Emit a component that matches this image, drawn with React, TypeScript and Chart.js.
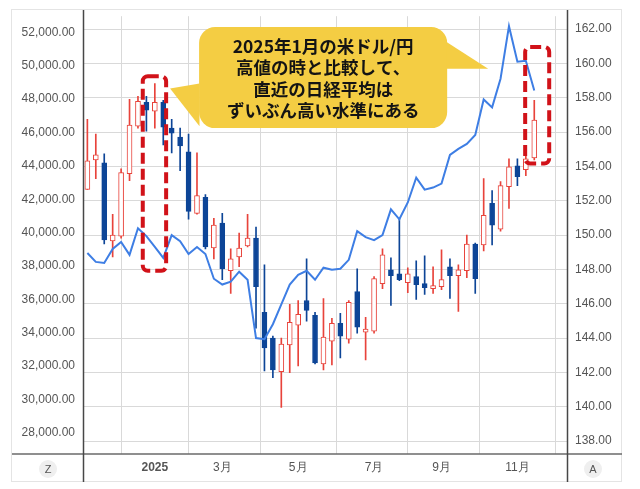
import React, { useEffect, useRef } from 'react';
import { Chart, registerables } from 'chart.js';

Chart.register(...registerables);

// Weekly Nikkei 225 candles (left axis)
const openP = [42583, 44363, 44185, 39496, 39793, 43532, 46381, 47805, 47271, 47805, 46262, 45728, 44838, 41158, 42108, 39081, 40565, 37716, 38547, 39200, 39674, 35223, 33680, 31662, 33265, 34452, 35935, 35045, 32137, 33502, 34570, 33621, 36469, 34036, 34095, 36944, 37775, 37538, 37004, 37360, 36944, 36648, 36766, 37953, 37419, 37716, 39318, 39259, 41752, 40209, 42761, 44007, 43770, 44482];
const closeP = [44304, 44660, 39556, 39852, 43591, 46440, 47865, 47331, 47805, 46322, 45965, 45194, 41277, 42226, 39140, 40446, 37835, 38428, 39081, 39674, 36766, 33087, 31781, 33324, 34630, 35104, 35342, 32196, 33739, 34570, 33799, 35817, 34333, 34214, 37241, 38665, 37419, 37182, 37538, 36885, 36707, 36826, 37182, 37419, 37775, 39318, 37241, 41039, 40446, 42820, 43948, 43354, 44422, 46737];
const highP = [46796, 45906, 44719, 41099, 43829, 47983, 48161, 48161, 48933, 47924, 46796, 46262, 45906, 44778, 42286, 40861, 41158, 39022, 39971, 41099, 40327, 38072, 33799, 33680, 35698, 35935, 38428, 35223, 36054, 34867, 35164, 35935, 37835, 34926, 37360, 39022, 38487, 40861, 37894, 38309, 38606, 37953, 38962, 38428, 38072, 39852, 39378, 43235, 42523, 43057, 44422, 44422, 44600, 47924];
const lowP = [42583, 43235, 39318, 38547, 39674, 43117, 46262, 46084, 46262, 45253, 44778, 43710, 40802, 41099, 39022, 38428, 37182, 36351, 37953, 39140, 34274, 31721, 31306, 29526, 31603, 32018, 34689, 32137, 31781, 32078, 32493, 33383, 33977, 32374, 33977, 36648, 35639, 37123, 36410, 35995, 36291, 36351, 36588, 36054, 35282, 37300, 36351, 38903, 39259, 40090, 41455, 42820, 43413, 44363];

// USD/JPY weekly (right axis)
const usdJpy = [148.96, 148.44, 148.38, 149.19, 149.6, 148.85, 150.4, 149.94, 149.31, 148.67, 150.0, 149.65, 148.9, 149.31, 148.9, 147.46, 147.12, 147.29, 147.87, 147.4, 144.0, 143.94, 144.81, 145.96, 147.12, 147.69, 147.92, 147.4, 148.1, 147.98, 148.04, 148.56, 150.23, 149.88, 149.71, 150.0, 151.5, 150.92, 151.9, 153.35, 152.65, 152.77, 153.0, 154.67, 155.02, 155.31, 155.83, 157.9, 157.44, 159.11, 162.17, 160.1, 160.15, 158.42];

// X axis labels (week index -> label)
const monthTickIdx = [8, 16, 25, 34, 42, 51];
const monthTickLabels = ['2025', '3月', '5月', '7月', '9月', '11月'];

const leftTicks = [28000, 30000, 32000, 34000, 36000, 38000, 40000, 42000, 44000, 46000, 48000, 50000, 52000];
const rightTicks = [138, 140, 142, 144, 146, 148, 150, 152, 154, 156, 158, 160, 162];

const calloutLines = ['2025年1月の米ドル/円', '高値の時と比較して、', '直近の日経平均は', 'ずいぶん高い水準にある'];

// Annotation boxes in data coordinates [x0, x1, yTop, yBottom]
const highlightBoxes = [
  [6.57, 9.34, 49366, 37716],
  [51.92, 54.77, 51129, 44143],
];
// Callout body and tails in data coordinates
const calloutBody = [13.25, 42.67, 52316, 46262];
const calloutTailLeft = [[9.81, 48636], [13.3, 48933], [13.3, 46381]];
const calloutTailRight = [[47.53, 49823], [42.6, 51426], [42.6, 49823]];

const UP = '#e8433b';
const DOWN = '#0d4597';

const annotPlugin = {
  id: 'annot',
  beforeDraw(chart: any) {
    const ctx = chart.ctx;
    ctx.save();
    ctx.fillStyle = '#ffffff';
    ctx.fillRect(0, 0, chart.width, chart.height);
    ctx.strokeStyle = '#e4e4e4';
    ctx.lineWidth = 1;
    ctx.strokeRect(11.5, 9.5, 610, 472);
    ctx.restore();
  },
  afterDatasetsDraw(chart: any) {
    const ctx = chart.ctx;
    const xs = chart.scales.x;
    const ys = chart.scales.y;
    const px = (v: number) => xs.getPixelForValue(v);
    const py = (v: number) => ys.getPixelForValue(v);
    ctx.save();
    // dashed highlight boxes
    ctx.strokeStyle = '#d11219';
    ctx.lineWidth = 4;
    ctx.setLineDash([11, 5]);
    for (const b of highlightBoxes) {
      const x0 = px(b[0]), x1 = px(b[1]), y0 = py(b[2]), y1 = py(b[3]);
      ctx.beginPath();
      ctx.roundRect(x0, y0, x1 - x0, y1 - y0, 5);
      ctx.stroke();
    }
    ctx.setLineDash([]);
    // callout
    ctx.fillStyle = '#f4cd43';
    const bx0 = px(calloutBody[0]), bx1 = px(calloutBody[1]);
    const by0 = py(calloutBody[2]), by1 = py(calloutBody[3]);
    ctx.beginPath();
    ctx.roundRect(bx0, by0, bx1 - bx0, by1 - by0, 16);
    ctx.fill();
    for (const tail of [calloutTailLeft, calloutTailRight]) {
      ctx.beginPath();
      ctx.moveTo(px(tail[0][0]), py(tail[0][1]));
      ctx.lineTo(px(tail[1][0]), py(tail[1][1]));
      ctx.lineTo(px(tail[2][0]), py(tail[2][1]));
      ctx.closePath();
      ctx.fill();
    }
    ctx.fillStyle = '#141414';
    ctx.font = "bold 17.5px 'Noto Sans CJK JP', sans-serif";
    ctx.textAlign = 'center';
    ctx.textBaseline = 'middle';
    const cx = (bx0 + bx1) / 2;
    calloutLines.forEach((t, i) => {
      ctx.fillText(t, cx, by0 + 19 + i * 21.5);
    });
    ctx.restore();
  },
  afterDraw(chart: any) {
    const ctx = chart.ctx;
    const a = chart.chartArea;
    ctx.save();
    ctx.strokeStyle = '#6a6a6a';
    ctx.lineWidth = 1.5;
    ctx.beginPath();
    ctx.moveTo(12, a.bottom);
    ctx.lineTo(622, a.bottom);
    ctx.stroke();
    ctx.strokeStyle = '#474747';
    ctx.beginPath();
    ctx.moveTo(a.left - 0.5, 10);
    ctx.lineTo(a.left - 0.5, 482);
    ctx.moveTo(a.right - 0.5, 10);
    ctx.lineTo(a.right - 0.5, 482);
    ctx.stroke();
    const badges: [string, number][] = [['Z', 48], ['A', 593]];
    for (const [t, x] of badges) {
      ctx.fillStyle = '#efefef';
      ctx.beginPath();
      ctx.arc(x, 469, 9, 0, Math.PI * 2);
      ctx.fill();
      ctx.fillStyle = '#555';
      ctx.font = "11px 'Liberation Sans', Arial, sans-serif";
      ctx.textAlign = 'center';
      ctx.textBaseline = 'middle';
      ctx.fillText(t, x, 469.5);
    }
    ctx.restore();
  },
};

export default function App() {
  const ref = useRef<HTMLCanvasElement | null>(null);
  useEffect(() => {
    if (!ref.current) return;
    const idx = openP.map((_, i) => i);
    const isUp = idx.map((i) => closeP[i] >= openP[i]);
    const chart = new Chart(ref.current, {
      type: 'bar',
      data: {
        datasets: [
          {
            type: 'line',
            data: idx.map((i) => ({ x: i, y: usdJpy[i] })),
            yAxisID: 'y1',
            borderColor: '#3e7ee4',
            borderWidth: 2,
            pointRadius: 0,
            tension: 0,
            order: 0,
          } as any,
          {
            type: 'bar',
            data: idx.map((i) => ({ x: i, y: [openP[i], closeP[i]] })),
            yAxisID: 'y',
            backgroundColor: idx.map((i) => (isUp[i] ? '#ffffff' : DOWN)),
            borderColor: idx.map((i) => (isUp[i] ? UP : DOWN)),
            borderWidth: 1,
            borderSkipped: false,
            barThickness: 5,
            grouped: false,
            order: 1,
          } as any,
          {
            type: 'bar',
            data: idx.map((i) => ({ x: i, y: [lowP[i], highP[i]] })),
            yAxisID: 'y',
            backgroundColor: idx.map((i) => (isUp[i] ? UP : DOWN)),
            borderWidth: 0,
            barThickness: 1,
            grouped: false,
            order: 2,
          } as any,
        ],
      },
      options: {
        animation: false,
        responsive: true,
        maintainAspectRatio: false,
        layout: { padding: { top: 12, left: 0, right: 0, bottom: 0 } },
        plugins: { legend: { display: false }, tooltip: { enabled: false } },
        scales: {
          x: {
            type: 'linear',
            min: -0.4,
            max: 57,
            offset: false,
            afterBuildTicks: (s: any) => {
              s.ticks = monthTickIdx.map((v) => ({ value: v }));
            },
            afterFit: (s: any) => {
              s.height = 35;
            },
            grid: { color: '#d9d9d9', lineWidth: 1, drawTicks: false },
            border: { display: false },
            ticks: {
              autoSkip: false,
              maxRotation: 0,
              padding: 6,
              color: '#555',
              font: (c: any) => ({
                family: "'Liberation Sans', Arial, sans-serif",
                size: 12,
                weight: c.tick && c.tick.value === 8 ? 'bold' : 'normal',
              }),
              callback: (v: any) => {
                const k = monthTickIdx.indexOf(Number(v));
                return k >= 0 ? monthTickLabels[k] : '';
              },
            },
          },
          y: {
            type: 'linear',
            position: 'left',
            min: 26736,
            max: 52968,
            afterBuildTicks: (s: any) => {
              s.ticks = leftTicks.map((v) => ({ value: v }));
            },
            afterFit: (s: any) => {
              s.width = 84;
            },
            grid: { display: false, drawTicks: false },
            border: { display: false },
            ticks: {
              padding: 9,
              color: '#555',
              font: { family: "'Liberation Sans', Arial, sans-serif", size: 12 },
              callback: (v: any) =>
                Number(v).toLocaleString('en-US', { minimumFractionDigits: 2, maximumFractionDigits: 2 }),
            },
          },
          y1: {
            type: 'linear',
            position: 'right',
            min: 137.25,
            max: 162.75,
            afterBuildTicks: (s: any) => {
              s.ticks = rightTicks.map((v) => ({ value: v }));
            },
            afterFit: (s: any) => {
              s.width = 72;
            },
            grid: { color: '#d9d9d9', lineWidth: 1, drawTicks: false },
            border: { display: false },
            ticks: {
              padding: 7,
              color: '#555',
              font: { family: "'Liberation Sans', Arial, sans-serif", size: 12 },
              callback: (v: any) => Number(v).toFixed(2),
            },
          },
        },
      } as any,
      plugins: [annotPlugin],
    });
    return () => chart.destroy();
  }, []);
  return (
    <div style={{ position: 'fixed', left: 0, top: 0, width: 640, height: 489, background: '#fff' }}>
      <canvas ref={ref} />
    </div>
  );
}
